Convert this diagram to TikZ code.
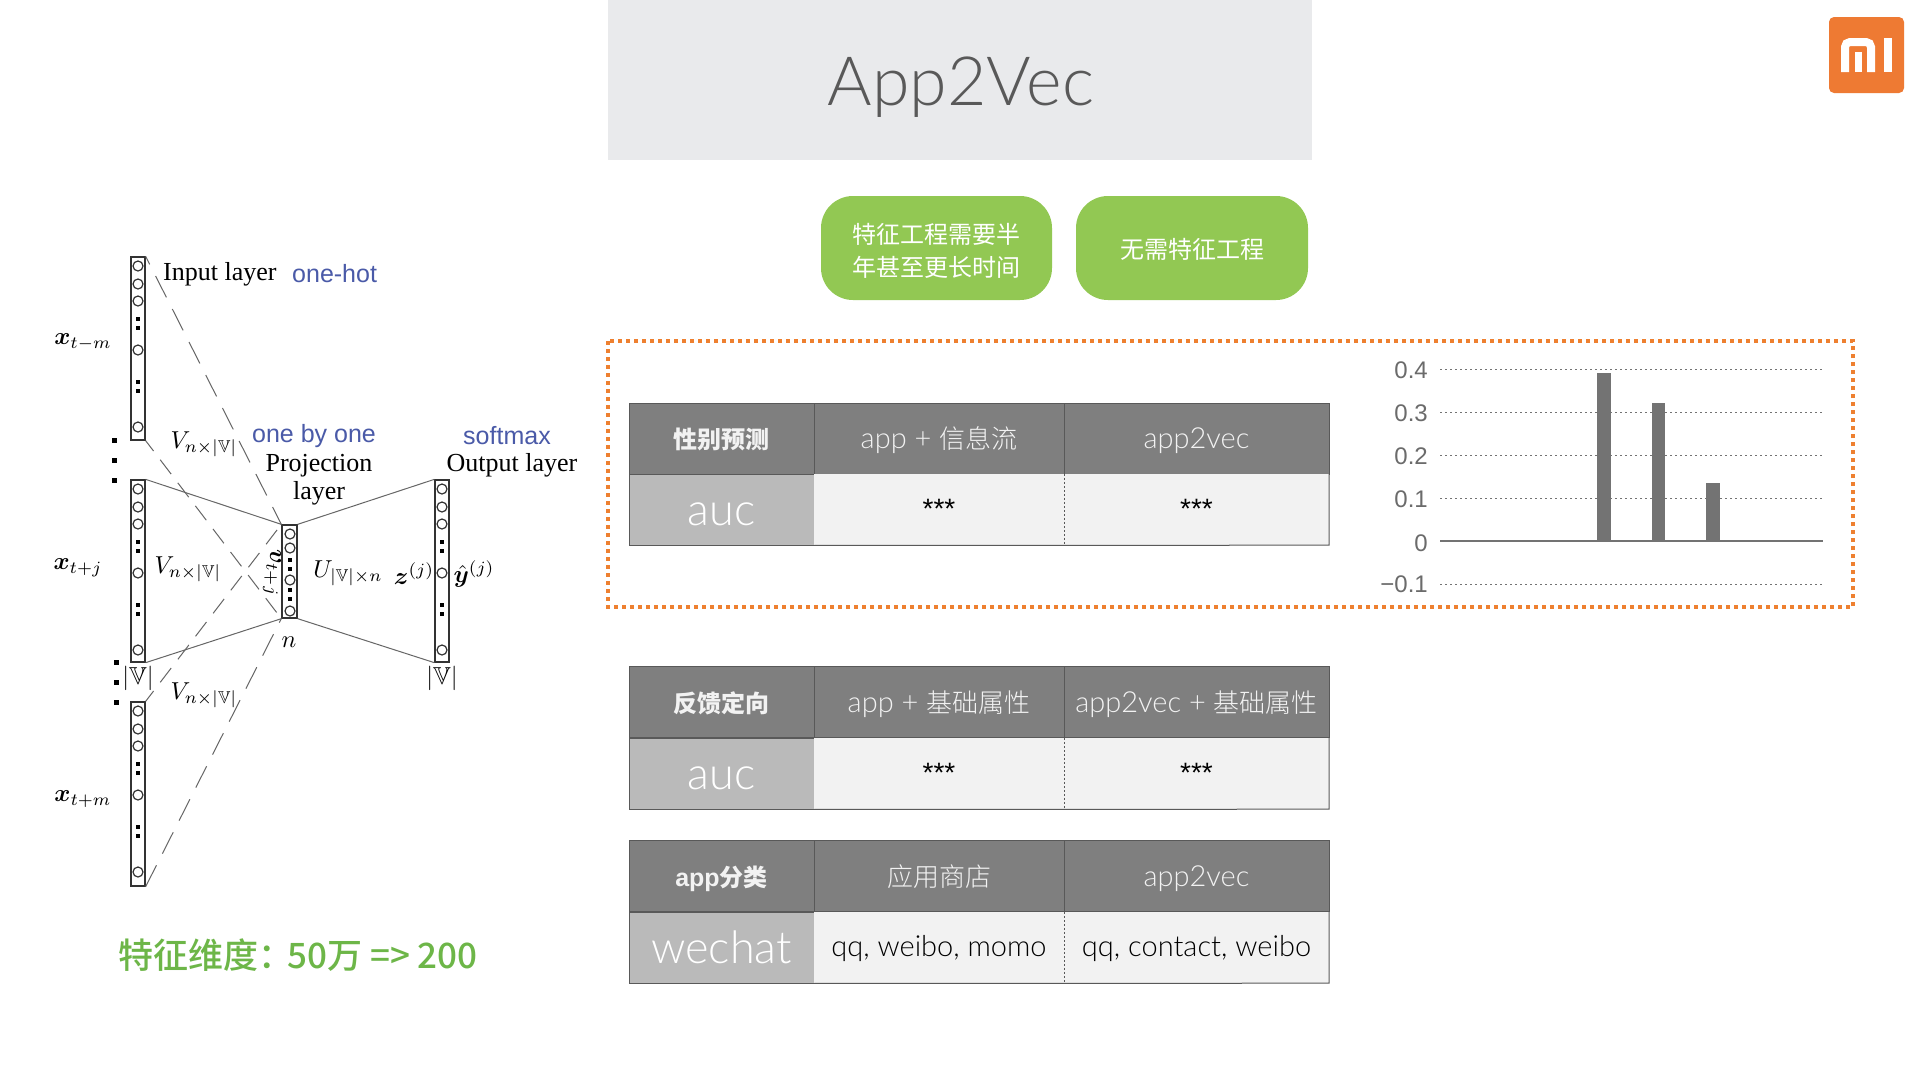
\documentclass[tikz,border=0pt]{standalone}
\usepackage{amsmath,amssymb,bm}
\usepackage{fontspec}
\newfontfamily\hei{Noto Sans CJK SC}
\newfontfamily\heil{Noto Sans CJK SC}[UprightFont=* Light]
\newfontfamily\heim{Noto Sans CJK SC}[UprightFont=* Medium]
\newfontfamily\arial{Liberation Sans}
\newfontfamily\timesf{Liberation Serif}
\newfontfamily\thin{Lato}[UprightFont=* Light]
\newcommand{\fs}[1]{\fontsize{#1}{#1}\selectfont}
\definecolor{titlegray}{HTML}{E9EAEC}
\definecolor{titletext}{HTML}{595959}
\definecolor{pillgreen}{HTML}{92C853}
\definecolor{dimgreen}{HTML}{6DB648}
\definecolor{hintblue}{HTML}{4A5AA8}
\definecolor{xiaomi}{HTML}{EE7A33}
\definecolor{dashorange}{HTML}{EE8030}
\definecolor{headgray}{HTML}{7F7F7F}
\definecolor{sidegray}{HTML}{BABABA}
\definecolor{bodygray}{HTML}{F2F2F2}
\definecolor{ruler}{HTML}{595959}
\definecolor{barfill}{HTML}{737373}
\definecolor{ticktext}{HTML}{6B6B6B}
\tikzset{
  pill/.style={fill=pillgreen, text=white, rounded corners=32pt, minimum height=104pt, align=center, font=\hei\fs{24}},
  netlabel/.style={inner sep=0pt, scale=2.45, text=black},
  nettext/.style={inner sep=0pt, text=black, font=\timesf\fs{26}},
  hint/.style={inner sep=0pt, text=hintblue, font=\arial\fs{25}},
  layerbox/.style={draw=black!80, line width=1.3pt, inner sep=0pt, minimum width=14pt},
  solidlink/.style={draw=black!60, line width=1pt},
  outerlink/.style={solidlink, dash pattern=on 24pt off 13pt},
  innerlink/.style={solidlink, dash pattern=on 18pt off 11pt, dash phase=5pt},
  colA/.style={minimum width=185pt},
  colB/.style={minimum width=250pt},
  colC/.style={minimum width=265pt},
  headcell/.style={fill=headgray, draw=ruler, line width=.8pt, minimum height=71pt, inner sep=0pt, text height=26pt, text depth=6pt, text=bodygray, font=\thin\fs{29}},
  sidecell/.style={colA, fill=sidegray, draw=ruler, line width=.8pt, minimum height=71pt, inner sep=0pt, text height=37pt, text depth=6pt, text=white, font=\thin\fs{45}},
  bodycell/.style={fill=bodygray, minimum height=71pt, inner sep=0pt, text height=24pt, text depth=6pt, text=black, font=\thin\fs{29}},
  tick/.style={anchor=east, inner sep=0pt, text=ticktext, font=\arial\fs{24}}
}
\begin{document}
\begin{tikzpicture}[x=1pt, y=-1pt]
  \path[use as bounding box, fill=white] (0,0) rectangle (1920,1080);

  % title and logo
  \node[fill=titlegray, minimum width=704pt, minimum height=160pt, inner sep=0pt] (titlebar) at (960,80) {};
  \node[text=titletext, inner sep=0pt, font=\thin\fs{68}] (title) at (961,87) {App2Vec};
  \fill[xiaomi, rounded corners=5pt] (1829,17) rectangle (1904,93);
  \draw[white, line width=8pt, rounded corners=5pt] (1845,72) -- (1845,42) -- (1871,42) -- (1871,72);
  \draw[white, line width=7pt] (1858.5,52) -- (1858.5,72);
  \draw[white, line width=8pt] (1887.5,38) -- (1887.5,72);

  % pills
  \node[pill, minimum width=231pt] (pilla) at (936.5,248) {\rule{0pt}{25pt}特征工程需要半\\[9pt]年甚至更长时间};
  \node[pill, minimum width=232pt] (pillb) at (1192,248) {\rule{0pt}{23pt}无需特征工程};

  % network
  \node[layerbox, minimum height=183pt] (inputa) at (138,348.5) {};
  \node[layerbox, minimum height=182pt] (inputb) at (138,571) {};
  \node[layerbox, minimum height=184pt] (inputc) at (138,794) {};
  \node[layerbox, minimum width=15pt, minimum height=93pt] (proj) at (289.5,571.5) {};
  \node[layerbox, minimum height=182pt] (outp) at (442,571) {};
  \foreach \colx/\coltop in {138/257, 138/480, 138/702, 442/480} {
    \foreach \d in {9,27,44,93,170}
      \draw[black!80, line width=1.2pt] (\colx,\coltop+\d) circle[radius=5pt];
    \foreach \d in {62,71,125,134}
      \fill[black] (\colx-2,\coltop+\d-2) rectangle (\colx+2,\coltop+\d+2);
  }
  \foreach \cy in {534,548,580,611}
    \draw[black!80, line width=1.2pt] (290,\cy) circle[radius=5pt];
  \foreach \cy in {560,569,590,599}
    \fill[black] (288,\cy-2) rectangle (292,\cy+2);
  \foreach \dx/\dy in {114/440, 114/460, 114/480, 116/662, 116/682, 116/702}
    \fill[black] (\dx-2.5,\dy-2.5) rectangle (\dx+2.5,\dy+2.5);

  \draw[outerlink, dash phase=15pt] (inputa.north east) -- (proj.north west);
  \draw[innerlink] (inputa.south east) -- (proj.south west);
  \draw[solidlink] (inputb.north east) -- (proj.north west);
  \draw[solidlink] (inputb.south east) -- (proj.south west);
  \draw[innerlink] (inputc.north east) -- (proj.north west);
  \draw[outerlink] (inputc.south east) -- (proj.south west);
  \draw[solidlink] (proj.north east) -- (outp.north west);
  \draw[solidlink] (proj.south east) -- (outp.south west);

  \node[nettext, anchor=west] (inlabel) at (163,274) {Input layer};
  \node[hint, anchor=west] (onehot) at (292,274) {one-hot};
  \node[hint] (onebyone) at (314,436) {one by one};
  \node[hint] (softmax) at (507,436) {softmax};
  \node[nettext] (projlabela) at (319,466) {Projection};
  \node[nettext] (projlabelb) at (319,493) {layer};
  \node[nettext] (outlabel) at (512,465) {Output layer};
  \node[netlabel] (xa) at (83,342) {$\bm{x}_{t-m}$};
  \node[netlabel] (xb) at (78,568) {$\bm{x}_{t+j}$};
  \node[netlabel] (xc) at (83,799) {$\bm{x}_{t+m}$};
  \node[netlabel] (va) at (204,444) {$V_{n\times|\mathbb{V}|}$};
  \node[netlabel] (vb) at (188,569) {$V_{n\times|\mathbb{V}|}$};
  \node[netlabel] (vc) at (204,695) {$V_{n\times|\mathbb{V}|}$};
  \node[netlabel] (ua) at (348,573) {$U_{|\mathbb{V}|\times n}$};
  \node[netlabel] (zj) at (414,574) {$\bm{z}^{(j)}$};
  \node[netlabel] (yj) at (474,574) {$\hat{\bm{y}}^{(j)}$};
  \node[netlabel, rotate=-90] (vt) at (272,573) {$\bm{v}_{t+j}$};
  \node[netlabel] (nn) at (289,642) {$n$};
  \node[netlabel] (vsizea) at (138,678) {$|\mathbb{V}|$};
  \node[netlabel] (vsizeb) at (442,678) {$|\mathbb{V}|$};

  \node[inner sep=0pt, text=dimgreen, font=\heim\fs{35}] (dimtext) at (298,955) {特征维度：\kern-6pt 50万 => 200};

  % dashed frame and chart
  \draw[dashorange, line width=4pt, dash pattern=on 4pt off 4pt] (608,341) rectangle (1853,607);
  \foreach \gy in {369,412,455,498,584}
    \draw[black!55, line width=1pt, dash pattern=on 2pt off 3pt] (1440,\gy) -- (1823,\gy);
  \fill[barfill] (1597,373) rectangle (1611,541);
  \fill[barfill] (1652,403) rectangle (1665,541);
  \fill[barfill] (1706,483) rectangle (1720,541);
  \draw[barfill, line width=1.5pt] (1440,541) -- (1823,541);
  \node[tick] (ya) at (1428,370) {0.4};
  \node[tick] (yb) at (1428,413) {0.3};
  \node[tick] (yc) at (1428,456) {0.2};
  \node[tick] (yd) at (1428,499) {0.1};
  \node[tick] (ye) at (1428,543) {0};
  \node[tick] (yf) at (1428,584) {−0.1};

  % gender table
  \node[headcell, colA, font=\hei\bfseries\fs{24}] (gendera) at (721.5,438.5) {性别预测};
  \node[headcell, colB] (genderb) at (939,438.5) {app + {\heil\fs{26}信息流}};
  \node[headcell, colC] (genderc) at (1196.5,438.5) {app2vec};
  \node[sidecell] (genderd) at (721.5,509.5) {auc};
  \node[bodycell, colB, font=\arial\fs{28}] (gendere) at (939,509.5) {***};
  \node[bodycell, colC, font=\arial\fs{28}] (genderf) at (1196.5,509.5) {***};

  % feedback table
  \node[headcell, colA, font=\hei\bfseries\fs{24}] (feeda) at (721.5,702) {反馈定向};
  \node[headcell, colB] (feedb) at (939,702) {app + {\heil\fs{26}基础属性}};
  \node[headcell, colC] (feedc) at (1196.5,702) {app2vec + {\heil\fs{26}基础属性}};
  \node[sidecell] (feedd) at (721.5,773.5) {auc};
  \node[bodycell, colB, font=\arial\fs{28}] (feede) at (939,773.5) {***};
  \node[bodycell, colC, font=\arial\fs{28}] (feedf) at (1196.5,773.5) {***};

  % app table
  \node[headcell, colA, font=\arial\bfseries\fs{25}] (cata) at (721.5,876) {app{\hei\bfseries\fs{24}分类}};
  \node[headcell, colB, font=\heil\fs{26}] (catb) at (939,876) {应用商店};
  \node[headcell, colC] (catc) at (1196.5,876) {app2vec};
  \node[sidecell] (catd) at (721.5,947.5) {wechat};
  \node[bodycell, colB] (cate) at (939,947.5) {qq, weibo, momo};
  \node[bodycell, colC] (catf) at (1196.5,947.5) {qq, contact, weibo};

  \foreach \t in {gender,feed,cat} {
    \draw[ruler, line width=1pt] (\t d.south east) -- (\t f.south east) -- (\t f.north east);
    \draw[ruler, line width=.8pt, dash pattern=on 2pt off 2pt] (\t e.north east) -- (\t e.south east);
  }
\end{tikzpicture}
\end{document}
